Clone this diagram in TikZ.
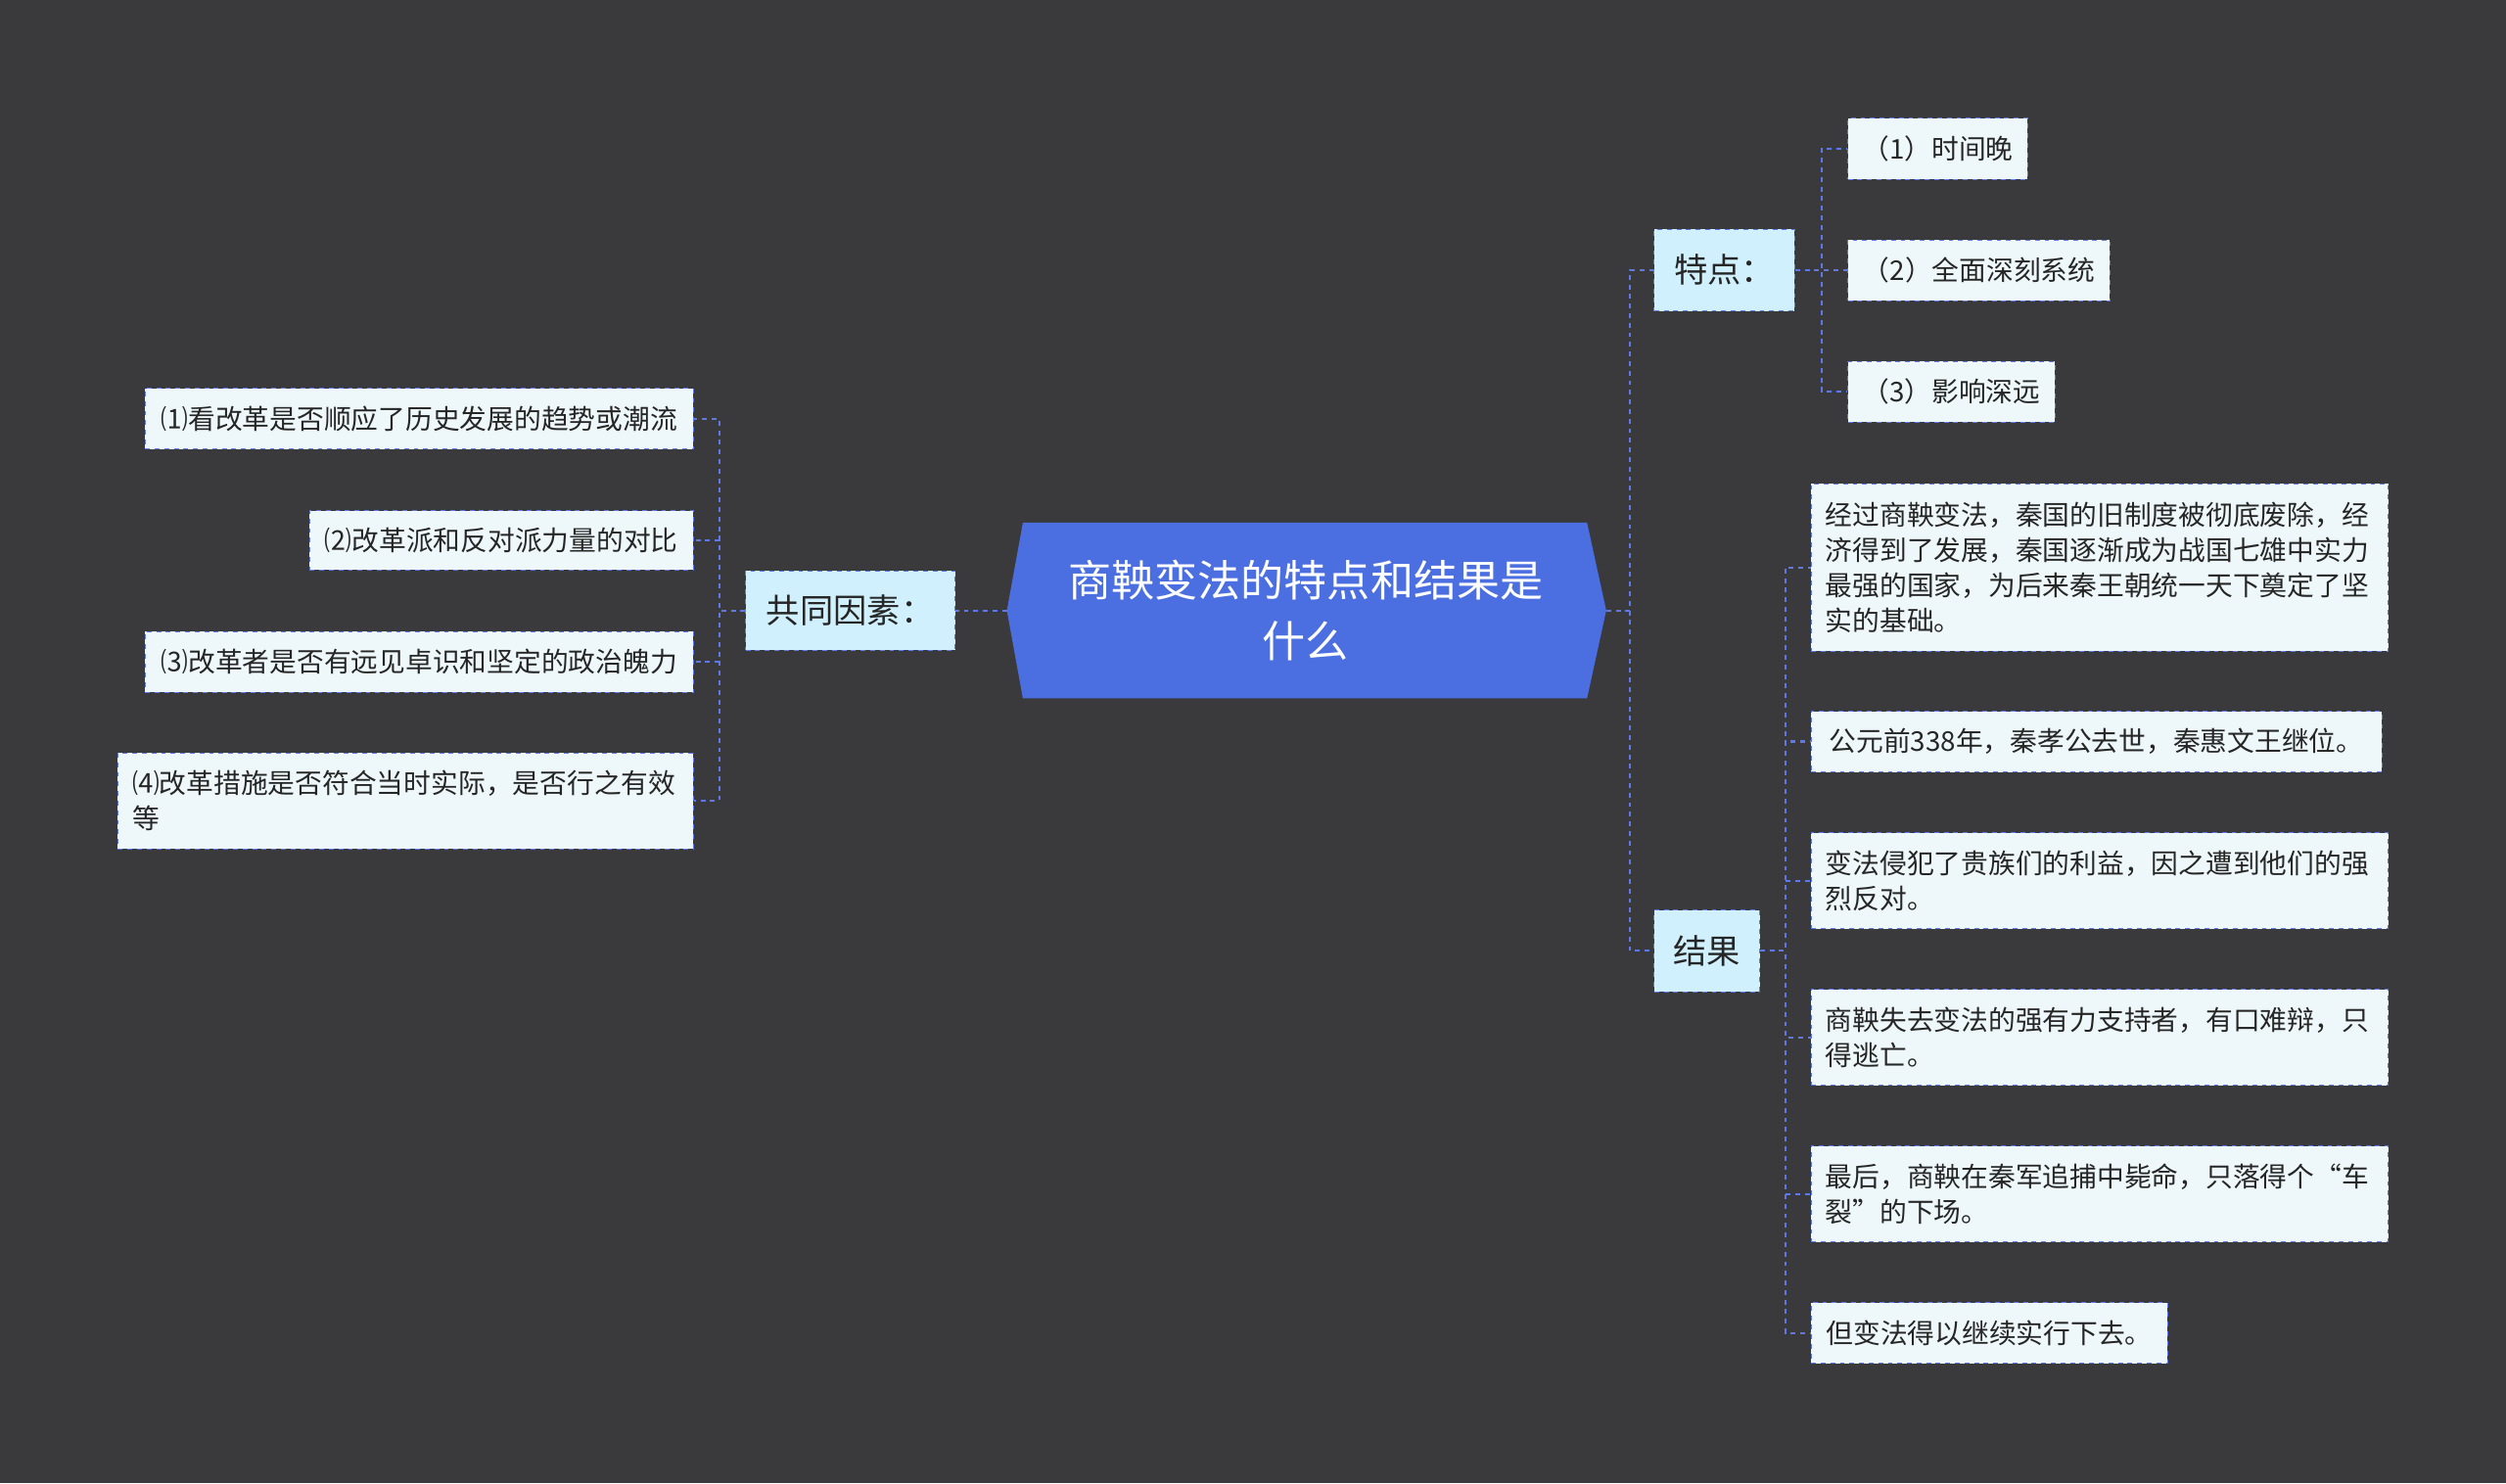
\documentclass[tikz,border=0pt]{standalone}
\usepackage{fontspec}
\setmainfont{Noto Sans CJK SC}
\definecolor{bgc}{HTML}{3A3A3C}
\definecolor{rootc}{HTML}{4B6EE0}
\definecolor{linec}{HTML}{5E78E6}
\definecolor{midc}{HTML}{CFF0FC}
\definecolor{leafc}{HTML}{EEF8FB}
\tikzset{
  mid/.style={draw=linec, dashed, fill=midc, inner sep=0pt, font=\fontsize{21}{24}\selectfont, text=black!85},
  leaf/.style={draw=linec, dashed, fill=leafc, inner xsep=9pt, inner ysep=0pt, align=left, font=\fontsize{17}{22}\selectfont, text=black!85},
  conn/.style={draw=linec, dashed, line width=1.3pt}
}
\begin{document}
\begin{tikzpicture}[x=1pt,y=-1pt]
  \fill[bgc] (0,0) rectangle (1568,928);
  \useasboundingbox (0,0) rectangle (1568,928);
  % root
  \fill[rootc] (630,382) -- (640,327) -- (993,327) -- (1005,382) -- (993,437) -- (640,437) -- cycle;
  \node[text=white, align=center, font=\fontsize{27}{38}\selectfont] (root) at (817,382) {商鞅变法的特点和结果是\\什么};
  \coordinate (rootR) at (1005,382);
  \coordinate (rootL) at (630,382);
  % middle nodes
  \node[mid, minimum width=88, minimum height=51] (tedian) at (1079,169) {特点：};
  \node[mid, minimum width=66, minimum height=51] (jieguo) at (1068,595) {结果};
  \node[mid, minimum width=131, minimum height=50] (yinsu) at (532,382) {共同因素：};
  % 特点 leaves
  \node[leaf, minimum width=109, minimum height=38, anchor=west] (t1) at (1156,93) {（1）时间晚};
  \node[leaf, minimum width=164, minimum height=38, anchor=west] (t2) at (1156,169) {（2）全面深刻系统};
  \node[leaf, minimum width=129, minimum height=38, anchor=west] (t3) at (1156,245) {（3）影响深远};
  % 结果 leaves
  \node[leaf, text width=343, minimum height=105, anchor=west] (j1) at (1133,355) {经过商鞅变法，秦国的旧制度被彻底废除，经\\济得到了发展，秦国逐渐成为战国七雄中实力\\最强的国家，为后来秦王朝统一天下奠定了坚\\实的基础。};
  \node[leaf, minimum width=357, minimum height=38, anchor=west] (j2) at (1133,464) {公元前338年，秦孝公去世，秦惠文王继位。};
  \node[leaf, text width=343, minimum height=60, anchor=west] (j3) at (1133,551) {变法侵犯了贵族们的利益，因之遭到他们的强\\烈反对。};
  \node[leaf, text width=343, minimum height=60, anchor=west] (j4) at (1133,649) {商鞅失去变法的强有力支持者，有口难辩，只\\得逃亡。};
  \node[leaf, text width=343, minimum height=60, anchor=west] (j5) at (1133,747) {最后，商鞅在秦军追捕中毙命，只落得个“车\\裂”的下场。};
  \node[leaf, minimum width=223, minimum height=38, anchor=west] (j6) at (1133,834) {但变法得以继续实行下去。};
  % 共同因素 leaves
  \node[leaf, minimum width=343, minimum height=38, anchor=east] (y1) at (434,262) {⑴看改革是否顺应了历史发展的趋势或潮流};
  \node[leaf, minimum width=240, minimum height=37, anchor=east] (y2) at (434,338) {⑵改革派和反对派力量的对比};
  \node[leaf, minimum width=343, minimum height=38, anchor=east] (y3) at (434,414) {⑶改革者是否有远见卓识和坚定的政治魄力};
  \node[leaf, text width=342, minimum height=60, anchor=east] (y4) at (434,501) {⑷改革措施是否符合当时实际，是否行之有效\\等};
  % connectors
  \draw[conn] (rootL) -- (yinsu.east);
  \draw[conn] (rootR) -- (1020,382) |- (tedian.west);
  \draw[conn] (1020,382) |- (jieguo.west);
  \foreach \n in {t1,t2,t3} \draw[conn] (tedian.east) -| (1140,0 |- \n.west) -- (\n.west);
  \foreach \n in {j1,j2,j3,j4,j5,j6} \draw[conn] (jieguo.east) -| (1117,0 |- \n.west) -- (\n.west);
  \foreach \n in {y1,y2,y3,y4} \draw[conn] (yinsu.west) -| (450,0 |- \n.east) -- (\n.east);
\end{tikzpicture}
\end{document}
